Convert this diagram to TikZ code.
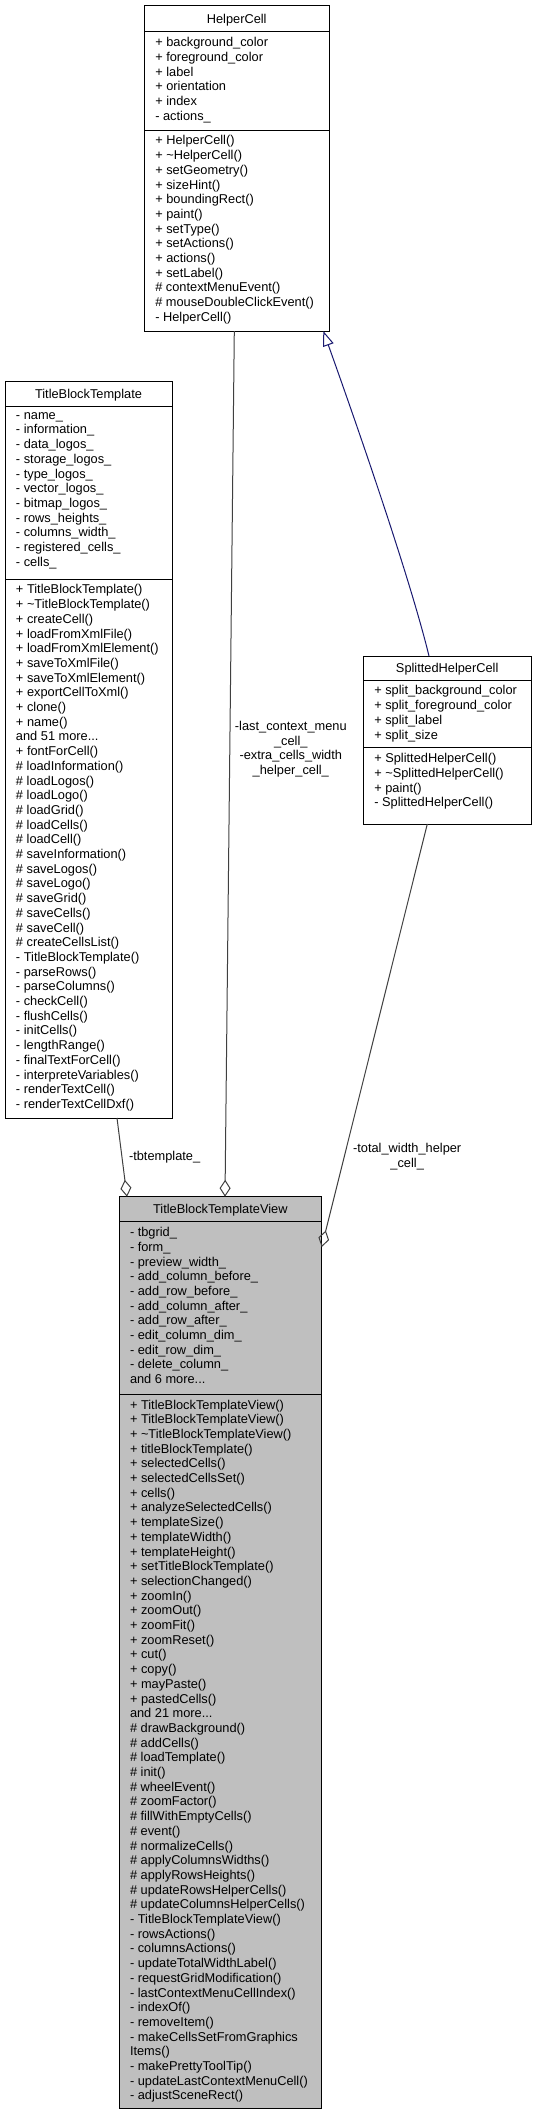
\documentclass[tikz,border=0pt]{standalone}
\usepackage{fontspec}
\setmainfont{Liberation Sans}
\usetikzlibrary{arrows.meta}
\definecolor{grey25}{HTML}{404040}
\definecolor{grey75}{HTML}{BFBFBF}
\definecolor{midnightblue}{HTML}{191970}

\begin{document}
\begin{tikzpicture}[x=1pt, y=-1pt,
  every node/.style={font=\fontsize{12.8}{14.7}\selectfont, inner sep=0pt, outer sep=0pt},
  classbox/.style={draw=black, line width=1pt, anchor=north west, fill=white},
  sep/.style={draw=black, line width=1pt},
  members/.style={anchor=north west, align=left, execute at begin node=\strut},
  lbl/.style={align=center},
  usage/.style={draw=grey25, line width=1pt, -{Diamond[open,length=17pt,width=11pt]}},
  inherit/.style={draw=midnightblue, line width=1pt, -{Triangle[open,length=15pt,width=11pt]}}]
\useasboundingbox (0,0) rectangle (536,2115);

% HelperCell
\node[classbox, minimum width=184.7pt, minimum height=325.3pt] (helper) at (144.3,5.7) {};
\node[anchor=base] (helper title) at (236.7,23.2) {HelperCell};
\draw[sep] (144.3,31.7) -- (329,31.7);
\draw[sep] (144.3,130) -- (329,130);
\node[members] (helper attrs) at (155.3,37.4) {+ background\_color\\+ foreground\_color\\+ label\\+ orientation\\+ index\\- actions\_};
\node[members] (helper ops) at (155.3,135.7) {+ HelperCell()\\+ \textasciitilde HelperCell()\\+ setGeometry()\\+ sizeHint()\\+ boundingRect()\\+ paint()\\+ setType()\\+ setActions()\\+ actions()\\+ setLabel()\\\# contextMenuEvent()\\\# mouseDoubleClickEvent()\\- HelperCell()};

% TitleBlockTemplate
\node[classbox, minimum width=167pt, minimum height=736.3pt] (tbt) at (5,381.7) {};
\node[anchor=base] (tbt title) at (88.5,398.7) {TitleBlockTemplate};
\draw[sep] (5,406.7) -- (172,406.7);
\draw[sep] (5,579) -- (172,579);
\node[members] (tbt attrs) at (16,412.4) {- name\_\\- information\_\\- data\_logos\_\\- storage\_logos\_\\- type\_logos\_\\- vector\_logos\_\\- bitmap\_logos\_\\- rows\_heights\_\\- columns\_width\_\\- registered\_cells\_\\- cells\_};
\node[members] (tbt ops) at (16,584.7) {+ TitleBlockTemplate()\\+ \textasciitilde TitleBlockTemplate()\\+ createCell()\\+ loadFromXmlFile()\\+ loadFromXmlElement()\\+ saveToXmlFile()\\+ saveToXmlElement()\\+ exportCellToXml()\\+ clone()\\+ name()\\and 51 more...\\+ fontForCell()\\\# loadInformation()\\\# loadLogos()\\\# loadLogo()\\\# loadGrid()\\\# loadCells()\\\# loadCell()\\\# saveInformation()\\\# saveLogos()\\\# saveLogo()\\\# saveGrid()\\\# saveCells()\\\# saveCell()\\\# createCellsList()\\- TitleBlockTemplate()\\- parseRows()\\- parseColumns()\\- checkCell()\\- flushCells()\\- initCells()\\- lengthRange()\\- finalTextForCell()\\- interpreteVariables()\\- renderTextCell()\\- renderTextCellDxf()};

% SplittedHelperCell
\node[classbox, minimum width=167.7pt, minimum height=168pt] (split) at (363.3,656) {};
\node[anchor=base] (split title) at (447.2,672.5) {SplittedHelperCell};
\draw[sep] (363.3,680) -- (531,680);
\draw[sep] (363.3,747.7) -- (531,747.7);
\node[members] (split attrs) at (374.3,685.7) {+ split\_background\_color\\+ split\_foreground\_color\\+ split\_label\\+ split\_size};
\node[members] (split ops) at (374.3,753.4) {+ SplittedHelperCell()\\+ \textasciitilde SplittedHelperCell()\\+ paint()\\- SplittedHelperCell()};

% TitleBlockTemplateView
\node[classbox, fill=grey75, minimum width=202.7pt, minimum height=911.3pt] (view) at (119,1196.7) {};
\node[anchor=base] (view title) at (220.3,1213.7) {TitleBlockTemplateView};
\draw[sep] (119,1221.7) -- (321.7,1221.7);
\draw[sep] (119,1394) -- (321.7,1394);
\node[members] (view attrs) at (130,1227.4) {- tbgrid\_\\- form\_\\- preview\_width\_\\- add\_column\_before\_\\- add\_row\_before\_\\- add\_column\_after\_\\- add\_row\_after\_\\- edit\_column\_dim\_\\- edit\_row\_dim\_\\- delete\_column\_\\and 6 more...};
\node[members] (view ops) at (130,1399.7) {+ TitleBlockTemplateView()\\+ TitleBlockTemplateView()\\+ \textasciitilde TitleBlockTemplateView()\\+ titleBlockTemplate()\\+ selectedCells()\\+ selectedCellsSet()\\+ cells()\\+ analyzeSelectedCells()\\+ templateSize()\\+ templateWidth()\\+ templateHeight()\\+ setTitleBlockTemplate()\\+ selectionChanged()\\+ zoomIn()\\+ zoomOut()\\+ zoomFit()\\+ zoomReset()\\+ cut()\\+ copy()\\+ mayPaste()\\+ pastedCells()\\and 21 more...\\\# drawBackground()\\\# addCells()\\\# loadTemplate()\\\# init()\\\# wheelEvent()\\\# zoomFactor()\\\# fillWithEmptyCells()\\\# event()\\\# normalizeCells()\\\# applyColumnsWidths()\\\# applyRowsHeights()\\\# updateRowsHelperCells()\\\# updateColumnsHelperCells()\\- TitleBlockTemplateView()\\- rowsActions()\\- columnsActions()\\- updateTotalWidthLabel()\\- requestGridModification()\\- lastContextMenuCellIndex()\\- indexOf()\\- removeItem()\\- makeCellsSetFromGraphics\\Items()\\- makePrettyToolTip()\\- updateLastContextMenuCell()\\- adjustSceneRect()};

% connectors
\draw[inherit] ([xshift=65.7pt]split.north west) .. controls +(-21,-86) and +(24.7,69) .. ([xshift=179pt]helper.south west);
\draw[usage] ([xshift=112pt]tbt.south west) -- node[lbl, pos=0.504, anchor=west, xshift=7pt] {-tbtemplate\_} ([xshift=8pt]view.north west);
\draw[usage] ([xshift=90pt]helper.south west) -- node[lbl, pos=0.483, xshift=61pt] {-last\_context\_menu\\\_cell\_\\-extra\_cells\_width\\\_helper\_cell\_} ([xshift=106pt]view.north west);
\draw[usage] ([xshift=64pt]split.south west) -- node[lbl, pos=0.787, xshift=63pt] {-total\_width\_helper\\\_cell\_} ([yshift=-50.3pt]view.north east);
\end{tikzpicture}
\end{document}
